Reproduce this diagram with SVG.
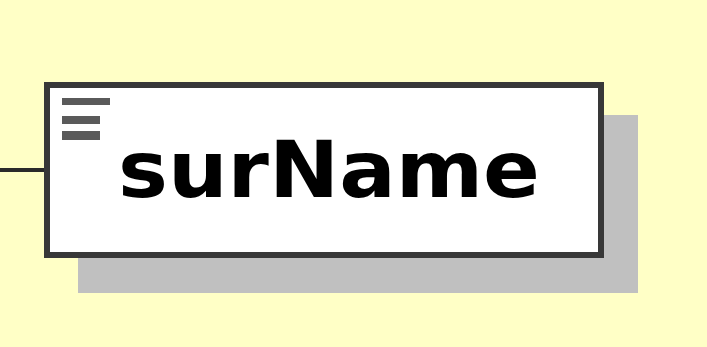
<svg xmlns="http://www.w3.org/2000/svg" width="707" height="347" viewBox="0 0 707 347">
  <style>
    .bg { fill: #ffffc6; }
    .shadow { fill: #c0c0c0; }
    .box { fill: #ffffff; stroke: #383838; stroke-width: 6; }
    .link { stroke: #2a2a2a; stroke-width: 4; fill: none; }
    .bar { fill: #5a5a5a; }
    .label { font-family: "DejaVu Sans", "Liberation Sans", sans-serif; font-weight: bold; font-size: 78px; fill: #000; }
  </style>
  <rect class="bg" x="0" y="0" width="707" height="347"/>
  <g id="connectors">
    <line class="link" x1="0" y1="170" x2="46" y2="170"/>
  </g>
  <g id="surName">
    <rect class="shadow" x="78" y="115" width="560" height="178"/>
    <rect class="box" x="47" y="85" width="554" height="170"/>
    <rect class="bar" x="62" y="98" width="48" height="7"/>
    <rect class="bar" x="62" y="116" width="38" height="8"/>
    <rect class="bar" x="62" y="131" width="38" height="9"/>
    <text class="label" x="118" y="197" textLength="422" lengthAdjust="spacingAndGlyphs">surName</text>
  </g>
</svg>
